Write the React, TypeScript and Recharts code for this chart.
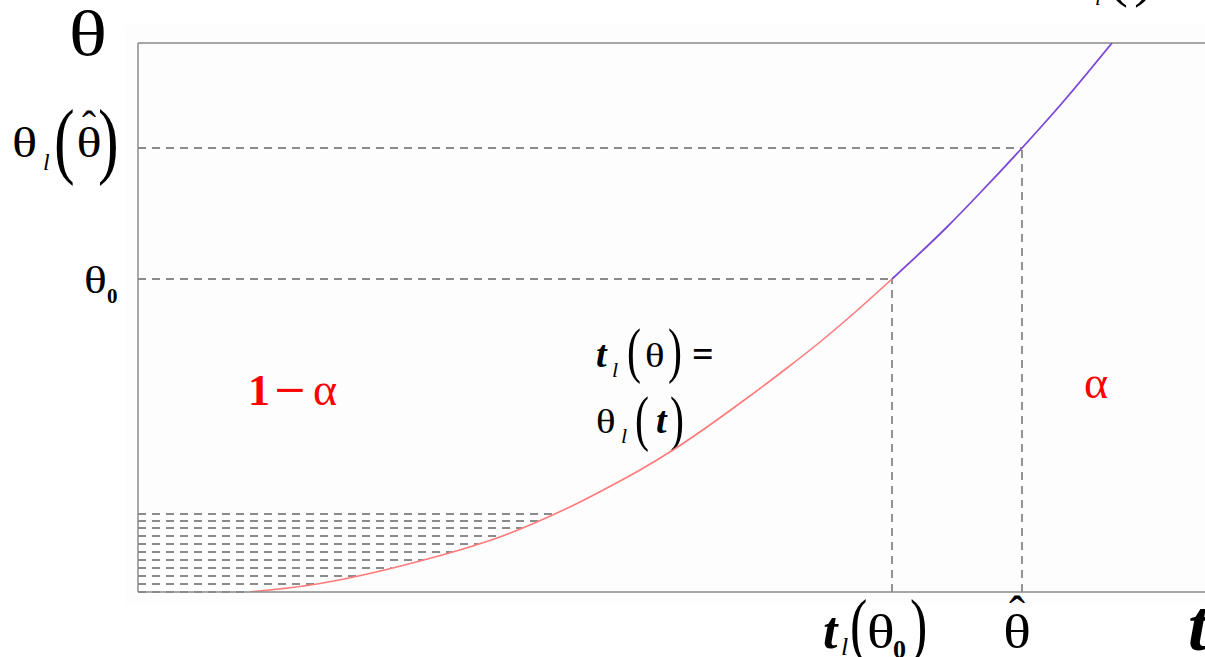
import React from 'react';
import {
  ComposedChart,
  Line,
  XAxis,
  YAxis,
  ReferenceLine,
  Customized,
} from 'recharts';

const W = 1205;
const H = 657;
const Y_AXIS_W = 138;
const X_AXIS_H = 65;
const MARGIN = { top: 43, right: 0, bottom: 0, left: 0 };
const PLOT_LEFT = Y_AXIS_W;
const PLOT_BOTTOM = H - X_AXIS_H;

// Axis ranges (arbitrary units)
const T_MAX = 1067;
const THETA_MAX = 549;

// Lower branch of θ_l(t) (pink), up to t_l(θ0)
const lowerT = [112, 179, 225, 282, 325, 359, 392, 442, 469, 502, 535, 569, 605, 649, 682, 715, 754];
const lowerTheta = [0, 8, 17, 31, 43, 54, 67, 90, 104, 122, 142, 165, 191, 224, 250, 278, 313];

// Upper branch of θ_l(t) (purple), from t_l(θ0) on
const upperT = [754, 809, 842, 884, 925, 974];
const upperTheta = [313, 365, 399, 444, 490, 549];

// Tick positions: t_l(θ0), θ̂ on t; θ0, θ_l(θ̂) on θ
const xTicks = [754, 884];
const yTicks = [313, 444];

// Levels of the dashed hatching under the curve
const hatchLevels = [0, 8, 16, 24, 32, 40, 48, 56, 64, 71, 78];

const lowerData = lowerT.map((t, i) => ({ t, theta: lowerTheta[i] }));
const upperData = upperT.map((t, i) => ({ t, theta: upperTheta[i] }));

// t on the lower branch where θ_l(t) reaches a given level
function tAtLevel(level: number): number {
  for (let i = 1; i < lowerT.length; i++) {
    if (level <= lowerTheta[i]) {
      const a = lowerTheta[i - 1];
      const b = lowerTheta[i];
      const f = b === a ? 0 : (level - a) / (b - a);
      return lowerT[i - 1] + f * (lowerT[i] - lowerT[i - 1]);
    }
  }
  return lowerT[lowerT.length - 1];
}

const SERIF = "'Liberation Serif', 'Times New Roman', serif";
const AXIS = '#8a8a8a';
const DASH = '#666666';
const RED = '#ff0000';

type Piece = {
  s: string;
  x: number;
  y: number;
  size: number;
  italic?: boolean;
  bold?: boolean;
  anchor?: 'start' | 'middle' | 'end';
  sx?: number;
  sy?: number;
};

function Formula({ x, y, pieces, color = '#000' }: { x: number; y: number; pieces: Piece[]; color?: string }) {
  return (
    <g transform={`translate(${x},${y})`}>
      {pieces.map((p, i) => (
        <text
          key={i}
          transform={`translate(${p.x},${p.y}) scale(${p.sx ?? 1},${p.sy ?? 1})`}
          fontSize={p.size}
          fontFamily={SERIF}
          fontStyle={p.italic ? 'italic' : 'normal'}
          fontWeight={p.bold ? 'bold' : 'normal'}
          textAnchor={p.anchor || 'start'}
          fill={color}
        >
          {p.s}
        </text>
      ))}
    </g>
  );
}

// θ0 and θ_l(θ̂) on the θ axis
const yLabelPieces: Piece[][] = [
  [
    { s: 'θ', x: -54, y: 14, size: 38, sx: 1.25 },
    { s: '0', x: -31, y: 24, size: 21, bold: true },
  ],
  [
    { s: 'θ', x: -126, y: 9, size: 42, sx: 1.25 },
    { s: 'l', x: -95, y: 22, size: 24, italic: true },
    { s: '(', x: -84, y: 20, size: 62, sy: 1.38 },
    { s: 'θ', x: -49, y: 9, size: 42, sx: 1.25, anchor: 'middle' },
    { s: 'ˆ', x: -49, y: -8, size: 42, anchor: 'middle' },
    { s: ')', x: -40, y: 20, size: 62, sy: 1.38 },
  ],
];

// t_l(θ0) and θ̂ on the t axis
const xLabelPieces: Piece[][] = [
  [
    { s: 't', x: -69, y: 56, size: 52, italic: true, bold: true },
    { s: 'l', x: -51, y: 63, size: 26, italic: true },
    { s: '(', x: -42, y: 57, size: 52, sy: 1.4 },
    { s: 'θ', x: -25, y: 56, size: 48, sx: 1.2 },
    { s: '0', x: 1, y: 66, size: 26, bold: true },
    { s: ')', x: 18, y: 57, size: 52, sy: 1.4 },
  ],
  [
    { s: 'θ', x: -5, y: 56, size: 48, sx: 1.2, anchor: 'middle' },
    { s: 'ˆ', x: -5, y: 38, size: 48, anchor: 'middle' },
  ],
];

function YTick(props: any) {
  const idx = yTicks.indexOf(props.payload.value);
  if (idx < 0) return null;
  return <Formula x={PLOT_LEFT} y={props.y} pieces={yLabelPieces[idx]} />;
}

function XTick(props: any) {
  const idx = xTicks.indexOf(props.payload.value);
  if (idx < 0) return null;
  return <Formula x={props.x} y={PLOT_BOTTOM} pieces={xLabelPieces[idx]} />;
}

function Annotations() {
  return (
    <g>
      {/* θ axis title */}
      <Formula x={0} y={0} pieces={[{ s: 'θ', x: 88, y: 55, size: 64, sx: 1.25, anchor: 'middle' }]} />
      {/* t axis title */}
      <Formula x={0} y={0} pieces={[{ s: 't', x: 1188, y: 650, size: 72, italic: true, bold: true }]} />
      {/* curve name, above the frame */}
      <Formula
        x={0}
        y={0}
        pieces={[
          { s: 'θ', x: 1068, y: -5, size: 42 },
          { s: 'l', x: 1095, y: 5, size: 22, italic: true },
          { s: '(', x: 1108, y: -5, size: 60 },
          { s: 't', x: 1124, y: -5, size: 40, italic: true, bold: true },
          { s: ')', x: 1134, y: -5, size: 60 },
        ]}
      />
      {/* t_l(θ) = θ_l(t) */}
      <Formula
        x={0}
        y={0}
        pieces={[
          { s: 't', x: 596, y: 367, size: 38, italic: true, bold: true },
          { s: 'l', x: 612, y: 377, size: 22, italic: true },
          { s: '(', x: 627, y: 371, size: 42, sy: 1.45 },
          { s: 'θ', x: 645, y: 367, size: 34, sx: 1.2 },
          { s: ')', x: 668, y: 371, size: 42, sy: 1.45 },
          { s: '=', x: 692, y: 367, size: 38, bold: true },
          { s: 'θ', x: 596, y: 433, size: 34, sx: 1.2 },
          { s: 'l', x: 621, y: 443, size: 22, italic: true },
          { s: '(', x: 635, y: 439, size: 42, sy: 1.45 },
          { s: 't', x: 656, y: 433, size: 38, italic: true, bold: true },
          { s: ')', x: 670, y: 439, size: 42, sy: 1.45 },
        ]}
      />
      {/* coverage regions */}
      <Formula
        x={0}
        y={0}
        color={RED}
        pieces={[
          { s: '1', x: 248, y: 405, size: 44, bold: true },
          { s: '−', x: 274, y: 405, size: 44, bold: true, sx: 1.25 },
          { s: 'α', x: 313, y: 405, size: 46 },
        ]}
      />
      <Formula x={0} y={0} color={RED} pieces={[{ s: 'α', x: 1084, y: 398, size: 46 }]} />
    </g>
  );
}

const dashed = { stroke: DASH, strokeWidth: 1.4, strokeDasharray: '8 6' };

export default function App() {
  return (
    <div style={{ position: 'absolute', left: 0, top: 0, width: W, height: H, background: '#fff' }}>
      <div
        style={{ position: 'absolute', left: 125, top: 25, width: W - 125, height: 580, background: '#fdfdfd' }}
      />
      <div style={{ position: 'absolute', left: 0, top: 0 }}>
        <ComposedChart width={W} height={H} margin={MARGIN}>
          <XAxis
            type="number"
            dataKey="t"
            domain={[0, T_MAX]}
            ticks={xTicks}
            interval={0}
            tick={<XTick />}
            tickLine={false}
            axisLine={{ stroke: AXIS, strokeWidth: 1.5 }}
            height={X_AXIS_H}
            allowDataOverflow
          />
          <YAxis
            type="number"
            dataKey="theta"
            domain={[0, THETA_MAX]}
            ticks={yTicks}
            interval={0}
            tick={<YTick />}
            tickLine={false}
            axisLine={{ stroke: AXIS, strokeWidth: 1.5 }}
            width={Y_AXIS_W}
            allowDataOverflow
          />
          <ReferenceLine y={THETA_MAX} stroke={AXIS} strokeWidth={1.5} />
          {hatchLevels.map((lv) => (
            <ReferenceLine
              key={`h${lv}`}
              segment={[
                { x: 0, y: lv },
                { x: tAtLevel(lv), y: lv },
              ]}
              {...dashed}
            />
          ))}
          <ReferenceLine
            segment={[
              { x: 0, y: yTicks[0] },
              { x: xTicks[0], y: yTicks[0] },
            ]}
            {...dashed}
          />
          <ReferenceLine
            segment={[
              { x: xTicks[0], y: 0 },
              { x: xTicks[0], y: yTicks[0] },
            ]}
            {...dashed}
          />
          <ReferenceLine
            segment={[
              { x: 0, y: yTicks[1] },
              { x: xTicks[1], y: yTicks[1] },
            ]}
            {...dashed}
          />
          <ReferenceLine
            segment={[
              { x: xTicks[1], y: 0 },
              { x: xTicks[1], y: yTicks[1] },
            ]}
            {...dashed}
          />
          <Line
            data={lowerData}
            dataKey="theta"
            type="monotone"
            stroke="#ff7a7a"
            strokeWidth={1.6}
            dot={false}
            isAnimationActive={false}
          />
          <Line
            data={upperData}
            dataKey="theta"
            type="monotone"
            stroke="#7b48d8"
            strokeWidth={1.8}
            dot={false}
            isAnimationActive={false}
          />
          <Customized component={Annotations} />
        </ComposedChart>
      </div>
    </div>
  );
}
